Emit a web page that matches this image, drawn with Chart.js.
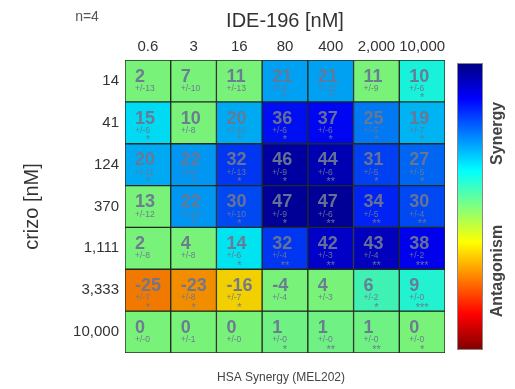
<!DOCTYPE html>
<html>
<head>
<meta charset="utf-8">
<script src="https://cdn.jsdelivr.net/npm/chart.js@4"></script>
<style>
  html, body { margin: 0; padding: 0; background: #fff; }
  #wrap { width: 515px; height: 389px; }
</style>
</head>
<body>
<div id="wrap"><canvas id="heat"></canvas></div>
<script>
'use strict';
// doses
const ideDoses = ['0.6', '3', '16', '80', '400', '2,000', '10,000'];
const crizoDoses = ['14', '41', '124', '370', '1,111', '3,333', '10,000'];

// HSA synergy score per cell (rows = crizo, cols = IDE-196)
const synergy = [
  [2, 7, 11, 21, 21, 11, 10],
  [15, 10, 20, 36, 37, 25, 19],
  [20, 22, 32, 46, 44, 31, 27],
  [13, 22, 30, 47, 47, 34, 30],
  [2, 4, 14, 32, 42, 43, 38],
  [-25, -23, -16, -4, 4, 6, 9],
  [0, 0, 0, 1, 1, 1, 0],
];
// +/- values
const errors = [
  [13, 10, 13, 8, 11, 9, 6],
  [6, 8, 10, 6, 6, 5, 7],
  [11, 8, 13, 9, 6, 5, 5],
  [12, 10, 10, 9, 6, 5, 4],
  [8, 8, 6, 4, 3, 4, 2],
  [7, 8, 7, 4, 3, 2, 0],
  [0, 1, 0, 0, 0, 0, 0],
];
// number of significance stars
const stars = [
  [0, 0, 0, 1, 1, 0, 1],
  [1, 0, 1, 1, 1, 1, 1],
  [1, 1, 1, 1, 2, 1, 1],
  [0, 1, 1, 1, 2, 2, 2],
  [0, 0, 1, 2, 2, 2, 3],
  [1, 1, 1, 0, 0, 1, 3],
  [0, 0, 0, 1, 2, 2, 1],
];

const FONT = '"Liberation Sans", Arial, sans-serif';
Chart.defaults.font.family = FONT;

// jet colormap, t = 0 is dark blue, t = 1 is dark red
function jet(t, k = 1) {
  const c = x => Math.round(255 * k * Math.max(0, Math.min(1, x)));
  const r = c(Math.min(4 * t - 1.5, -4 * t + 4.5));
  const g = c(Math.min(4 * t - 0.5, -4 * t + 3.5));
  const b = c(Math.min(4 * t + 0.5, -4 * t + 2.5));
  return `rgb(${r},${g},${b})`;
}
// non significant cells are shown as neutral
const cellColor = (v, s) => jet(0.5 - (s ? v : 0) / 100, 0.95);

const datasets = crizoDoses.map((dose, r) => ({
  label: dose,
  data: ideDoses.map(() => [r, r + 1]),
  backgroundColor: synergy[r].map((v, c) => cellColor(v, stars[r][c])),
  borderColor: '#1f2b1f',
  borderWidth: 1,
  borderSkipped: false,
  barPercentage: 1,
  categoryPercentage: 1,
  grouped: false,
}));

// numbers inside the cells
const cellText = {
  id: 'cellText',
  afterDatasetsDraw(chart) {
    const ctx = chart.ctx;
    ctx.save();
    ctx.fillStyle = 'rgba(108,118,145,0.95)';
    chart.data.datasets.forEach((ds, r) => {
      chart.getDatasetMeta(r).data.forEach((bar, c) => {
        const left = bar.x - bar.width / 2;
        const top = Math.min(bar.y, bar.base);
        const h = Math.abs(bar.base - bar.y);
        ctx.textAlign = 'left';
        ctx.textBaseline = 'alphabetic';
        ctx.font = `bold 18px ${FONT}`;
        ctx.fillText(String(synergy[r][c]), left + 10, top + h * 0.52);
        ctx.font = `8.5px ${FONT}`;
        ctx.fillText('+/-' + errors[r][c], left + 10, top + h * 0.74);
        if (stars[r][c]) {
          ctx.textAlign = 'center';
          ctx.font = `11px ${FONT}`;
          ctx.fillText('*'.repeat(stars[r][c]), bar.x, top + h - 0.5);
        }
      });
    });
    ctx.restore();
  },
};

// colour bar, extra labels
const extras = {
  id: 'extras',
  afterDraw(chart) {
    const ctx = chart.ctx;
    const { left, right, top, bottom } = chart.chartArea;
    const x = right + 12, w = 26, y0 = top + 3, y1 = bottom - 3;
    const grad = ctx.createLinearGradient(0, y0, 0, y1);
    for (let i = 0; i <= 16; i++) grad.addColorStop(i / 16, jet(i / 16));
    ctx.save();
    ctx.fillStyle = grad;
    ctx.fillRect(x, y0, w, y1 - y0);
    ctx.strokeStyle = '#888';
    ctx.lineWidth = 1;
    ctx.strokeRect(x + 0.5, y0 + 0.5, w - 1, y1 - y0 - 1);

    ctx.fillStyle = '#444';
    ctx.font = `bold 16px ${FONT}`;
    ctx.textAlign = 'center';
    ctx.textBaseline = 'middle';
    [['Synergy', 0.245], ['Antagonism', 0.725]].forEach(([t, f]) => {
      ctx.save();
      ctx.translate(x + w + 15, y0 + (y1 - y0) * f);
      ctx.rotate(-Math.PI / 2);
      ctx.fillText(t, 0, 0);
      ctx.restore();
    });

    ctx.fillStyle = '#555';
    ctx.font = `14px ${FONT}`;
    ctx.fillText('n=4', 87, 17);

    ctx.fillStyle = '#444';
    ctx.font = `12px ${FONT}`;
    ctx.fillText('HSA Synergy (MEL202)', (left + right) / 2 - 4, bottom + 25);
    ctx.restore();
  },
};

new Chart(document.getElementById('heat'), {
  type: 'bar',
  data: { labels: ideDoses, datasets },
  options: {
    responsive: true,
    maintainAspectRatio: false,
    animation: false,
    layout: { padding: { top: 0, left: 0, right: 70, bottom: 36 } },
    plugins: { legend: { display: false }, tooltip: { enabled: false } },
    scales: {
      x: {
        position: 'top',
        grid: { display: false, drawTicks: false },
        border: { display: false },
        ticks: { color: '#333', font: { size: 15 }, padding: 4, maxRotation: 0, autoSkip: false },
        title: { display: true, text: 'IDE-196 [nM]', color: '#333', font: { size: 20 }, padding: { top: 9, bottom: 0 } },
        afterFit: s => { s.height = 60; },
      },
      y: {
        reverse: true,
        min: 0,
        max: 7,
        grid: { display: false, drawTicks: false },
        border: { display: false },
        afterBuildTicks: s => { s.ticks = crizoDoses.map((_, i) => ({ value: i + 0.5 })); },
        ticks: { color: '#333', font: { size: 15 }, padding: 6, callback: (v, i) => crizoDoses[i] },
        title: { display: true, text: 'crizo [nM]', color: '#333', font: { size: 20 }, padding: { top: 20, bottom: 0 } },
        afterFit: s => { s.width = 125; },
      },
    },
  },
  plugins: [cellText, extras],
});
</script>
</body>
</html>
